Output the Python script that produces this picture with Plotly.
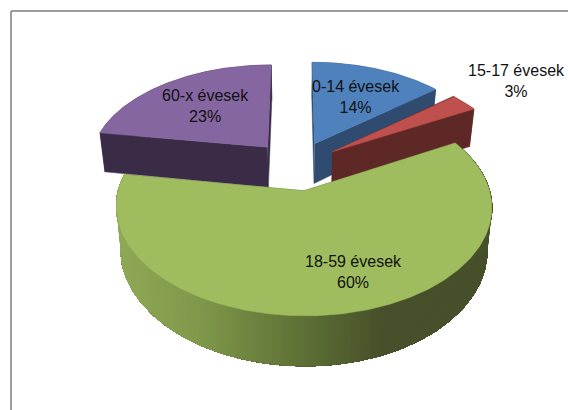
import numpy as np
import plotly.graph_objects as go

# Data
categories = ["0-14 évesek", "15-17 évesek", "18-59 évesek", "60-x évesek"]
values = [14, 3, 60.5, 22.5]
percent_labels = ["14%", "3%", "60%", "23%"]

# Styles
top_colors = ["#4f81bd", "#c0504d", "#9fbd5e", "#8566a0"]
side_colors = ["#2f4b6f", "#5e2827", "#48522b", "#3a2c47"]
label_xy = [(356, 97), (516, 81), (353, 272), (205, 106)]
wall_stops_x = [116, 200, 300, 385, 491]
wall_stops_rgb = [(143, 169, 87), (127, 152, 74), (95, 114, 54), (71, 80, 42), (71, 80, 42)]

# Projection of the tilted exploded pie to canvas pixels
CX, CY, AX, BY, K, EXPLODE, DEPTH, SHRINK = 296, 165.5, 179, 99, 0.144, 0.25, 41, 0.975
ARC_POINTS = 240
BAND_STEP = 1


def project(u, v, low=False):
    t = 1 / (1 + K * v)
    x = AX * u * t
    y = CY - BY * v * t
    if low:
        return CX + x * SHRINK, y + DEPTH * t
    return CX + x, y


def ring(a0, a1, n, centre):
    th = np.radians(np.linspace(a0, a1, n))
    return centre[0] + np.sin(th), centre[1] + np.cos(th)


def poly(fig, xs, ys, color):
    fig.add_trace(go.Scatter(
        x=xs, y=ys, mode="lines", fill="toself", fillcolor=color,
        line=dict(color=color, width=0.5), hoverinfo="skip", showlegend=False,
    ))


def wall(fig, ua, va, color):
    xt, yt = project(np.asarray(ua), np.asarray(va))
    xb, yb = project(np.asarray(ua), np.asarray(va), low=True)
    poly(fig, list(xt) + list(xb[::-1]), list(yt) + list(yb[::-1]), color)


def wall_color(x):
    return "rgb({},{},{})".format(*[
        int(round(np.interp(x, wall_stops_x, [s[c] for s in wall_stops_rgb])))
        for c in range(3)
    ])


fig = go.Figure()

total = sum(values)
ends = np.cumsum(values) / total * 360
starts = np.concatenate([[0], ends[:-1]])

# Painter's order: far slices first, the big near slice last
for i in [3, 0, 1, 2]:
    a0, a1 = starts[i], ends[i]
    mid = np.radians((a0 + a1) / 2)
    c = (EXPLODE * np.sin(mid), EXPLODE * np.cos(mid))
    ua, va = ring(a0, a1, ARC_POINTS, c)

    wall(fig, [c[0], ua[0]], [c[1], va[0]], side_colors[i])
    wall(fig, [c[0], ua[-1]], [c[1], va[-1]], side_colors[i])

    if i == 2:
        # Outer wall shaded left to right: each band also covers all that
        # follows it, so the next band overpaints it and no seams show.
        for j in range(0, len(ua) - 1, BAND_STEP):
            xm, _ = project(ua[j], va[j])
            wall(fig, ua[j:], va[j:], wall_color(xm))
    else:
        wall(fig, ua, va, side_colors[i])

    xs, ys = project(np.r_[c[0], ua, c[0]], np.r_[c[1], va, c[1]])
    poly(fig, xs, ys, top_colors[i])

annotations = [
    dict(x=lx, y=ly, xref="x", yref="y", text=f"{cat}<br>{pct}", showarrow=False,
         font=dict(family="Liberation Sans", size=16, color="#111111"),
         align="center", xanchor="center", yanchor="middle")
    for cat, pct, (lx, ly) in zip(categories, percent_labels, label_xy)
]

frame = dict(type="line", xref="x", yref="y", line=dict(color="#9c9c9c", width=2), layer="above")

fig.update_layout(
    width=568, height=410,
    margin=dict(l=0, r=0, t=0, b=0),
    paper_bgcolor="white", plot_bgcolor="white",
    xaxis=dict(range=[0, 568], visible=False, fixedrange=True),
    yaxis=dict(range=[410, 0], visible=False, fixedrange=True),
    annotations=annotations,
    shapes=[
        dict(frame, x0=11, x1=568, y0=11, y1=11),
        dict(frame, x0=11, x1=11, y0=11, y1=410),
    ],
)

fig.write_html("out.html", post_script="document.body.style.margin='0';",
               config={"displayModeBar": False})
